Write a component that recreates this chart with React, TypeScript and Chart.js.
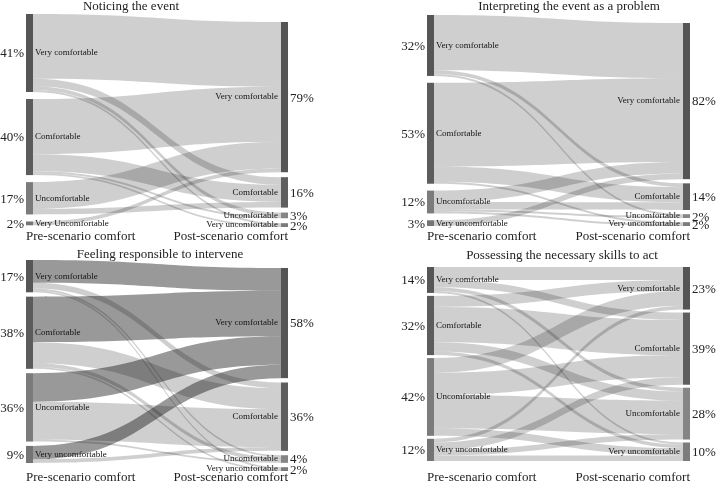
import React, { useEffect, useRef } from "react";
import { Chart, registerables } from "chart.js";

Chart.register(...registerables);

// ---------- data ----------
const panelTitles = [
  "Noticing the event",
  "Interpreting the event as a problem",
  "Feeling responsible to intervene",
  "Possessing the necessary skills to act",
];

const axisLabels = ["Pre-scenario comfort", "Post-scenario comfort"];

const comfortLevels = ["Very comfortable", "Comfortable", "Uncomfortable", "Very uncomfortable"];
const comfortLevelsNoticingPre = ["Very comfortable", "Comfortable", "Uncomfortable", "Very Uncomfortable"];

// percentages shown next to the nodes
const prePctNoticing = [41, 40, 17, 2];
const postPctNoticing = [79, 16, 3, 2];
const prePctInterpreting = [32, 53, 12, 3];
const postPctInterpreting = [82, 14, 2, 2];
const prePctResponsible = [17, 38, 36, 9];
const postPctResponsible = [58, 36, 4, 2];
const prePctSkills = [14, 32, 42, 12];
const postPctSkills = [23, 39, 28, 10];

// flows: rows = pre level, columns = post level (percent of respondents)
const flowsNoticing = [
  [34, 4, 2, 1],
  [29, 9, 1, 1],
  [14, 3, 0, 0],
  [2, 0, 0, 0],
];
const flowsInterpreting = [
  [29, 2, 1, 0],
  [44, 8, 0, 1],
  [6, 4, 1, 1],
  [3, 0, 0, 0],
];
const flowsResponsible = [
  [12, 3, 1, 1],
  [24, 11, 2, 1],
  [15, 20, 1, 0],
  [7, 2, 0, 0],
];
const flowsSkills = [
  [7, 4, 2, 1],
  [6, 19, 5, 2],
  [8, 12, 18, 4],
  [2, 4, 3, 3],
];

// ---------- layout / styles ----------
const W = 716;
const H = 483;
const NODE_W = 7;
const SERIF = '"Liberation Serif", "Times New Roman", Times, serif';
const LINK_LIGHT = "rgba(0,0,0,0.19)";
const LINK_DARK = "rgba(0,0,0,0.40)";
const PRE_COLORS = ["#565656", "#5c5c5c", "#7b7b7b", "#747474"];
const POST_COLORS = ["#555555", "#5e5e5e", "#858585", "#7c7c7c"];

type PanelDef = {
  title: string;
  preLabels: string[];
  postLabels: string[];
  prePct: number[];
  postPct: number[];
  flows: number[][];
  darkTargets: number[];
  box: { left: number; top: number; width: number; height: number };
  area: { left: number; right: number; top: number; bottom: number };
  gapL: number;
  gapR: number;
  offR: number;
  titleX: number;
  titleY: number;
  axisY: number;
};

const panels: PanelDef[] = [
  {
    title: panelTitles[0],
    preLabels: comfortLevelsNoticingPre,
    postLabels: comfortLevels,
    prePct: prePctNoticing,
    postPct: postPctNoticing,
    flows: flowsNoticing,
    darkTargets: [],
    box: { left: 0, top: 0, width: 358, height: 242 },
    area: { left: 26, right: 288, top: 14, bottom: 227 },
    gapL: 3.7,
    gapR: 2.6,
    offR: 4.2,
    titleX: 131,
    titleY: 10,
    axisY: 240,
  },
  {
    title: panelTitles[1],
    preLabels: comfortLevels,
    postLabels: comfortLevels,
    prePct: prePctInterpreting,
    postPct: postPctInterpreting,
    flows: flowsInterpreting,
    darkTargets: [],
    box: { left: 358, top: 0, width: 358, height: 242 },
    area: { left: 69, right: 332, top: 15, bottom: 226 },
    gapL: 3.6,
    gapR: 2.2,
    offR: 4.2,
    titleX: 211,
    titleY: 10,
    axisY: 240,
  },
  {
    title: panelTitles[2],
    preLabels: comfortLevels,
    postLabels: comfortLevels,
    prePct: prePctResponsible,
    postPct: postPctResponsible,
    flows: flowsResponsible,
    darkTargets: [0],
    box: { left: 0, top: 242, width: 358, height: 241 },
    area: { left: 26, right: 288, top: 18, bottom: 229 },
    gapL: 2.3,
    gapR: 2.3,
    offR: 4.2,
    titleX: 160,
    titleY: 16,
    axisY: 239,
  },
  {
    title: panelTitles[3],
    preLabels: comfortLevels,
    postLabels: comfortLevels,
    prePct: prePctSkills,
    postPct: postPctSkills,
    flows: flowsSkills,
    darkTargets: [],
    box: { left: 358, top: 242, width: 358, height: 241 },
    area: { left: 69, right: 332, top: 25, bottom: 219 },
    gapL: 1.6,
    gapR: 1.6,
    offR: 0,
    titleX: 204,
    titleY: 17,
    axisY: 239,
  },
];

function stackStarts(values: number[], gap: number, offset: number): number[] {
  const out: number[] = [];
  let acc = offset;
  for (const v of values) {
    out.push(acc);
    acc += v + gap;
  }
  return out;
}

function SankeyPanel({ p }: { p: PanelDef }) {
  const ref = useRef<HTMLCanvasElement | null>(null);

  useEffect(() => {
    const canvas = ref.current;
    if (!canvas) return;
    const sum = (a: number[]) => a.reduce((s, v) => s + v, 0);
    const colL = sum(p.prePct) + p.gapL * (p.prePct.length - 1);
    const colR = p.offR + sum(p.postPct) + p.gapR * (p.postPct.length - 1);
    const M = Math.max(colL, colR);

    const sankeyPlugin = {
      id: "sankeyDraw",
      afterDatasetsDraw(chart: any) {
        const ctx: CanvasRenderingContext2D = chart.ctx;
        const xs = chart.scales.x;
        const ys = chart.scales.y;
        const xL = xs.getPixelForValue(0);
        const xR = xs.getPixelForValue(1);
        const preStart = stackStarts(p.prePct, p.gapL, 0);
        const postStart = stackStarts(p.postPct, p.gapR, p.offR);

        // links
        const srcOff = preStart.slice();
        const tgtOff = postStart.slice();
        const x0 = xL + NODE_W;
        const x1 = xR - NODE_W;
        const xm = (x0 + x1) / 2;
        ctx.save();
        for (let i = 0; i < p.flows.length; i++) {
          for (let j = 0; j < p.flows[i].length; j++) {
            const v = p.flows[i][j];
            if (!v) continue;
            const s0 = srcOff[i];
            srcOff[i] += v;
            const t0 = tgtOff[j];
            tgtOff[j] += v;
            const ys0 = ys.getPixelForValue(s0);
            const ys1 = ys.getPixelForValue(s0 + v);
            const yt0 = ys.getPixelForValue(t0);
            const yt1 = ys.getPixelForValue(t0 + v);
            ctx.beginPath();
            ctx.moveTo(x0, ys0);
            ctx.bezierCurveTo(xm, ys0, xm, yt0, x1, yt0);
            ctx.lineTo(x1, yt1);
            ctx.bezierCurveTo(xm, yt1, xm, ys1, x0, ys1);
            ctx.closePath();
            ctx.fillStyle = p.darkTargets.includes(j) ? LINK_DARK : LINK_LIGHT;
            ctx.fill();
          }
        }

        // nodes
        for (let i = 0; i < p.prePct.length; i++) {
          const a = ys.getPixelForValue(preStart[i]);
          const b = ys.getPixelForValue(preStart[i] + p.prePct[i]);
          ctx.fillStyle = PRE_COLORS[i];
          ctx.fillRect(xL, a, NODE_W, b - a);
        }
        for (let j = 0; j < p.postPct.length; j++) {
          const a = ys.getPixelForValue(postStart[j]);
          const b = ys.getPixelForValue(postStart[j] + p.postPct[j]);
          ctx.fillStyle = POST_COLORS[j];
          ctx.fillRect(xR - NODE_W, a, NODE_W, b - a);
        }

        // node labels
        ctx.textBaseline = "middle";
        ctx.font = `9px ${SERIF}`;
        ctx.fillStyle = "#111";
        for (let i = 0; i < p.prePct.length; i++) {
          const c = ys.getPixelForValue(preStart[i] + p.prePct[i] / 2);
          ctx.textAlign = "left";
          ctx.fillText(p.preLabels[i], xL + NODE_W + 2, c);
        }
        for (let j = 0; j < p.postPct.length; j++) {
          const c = ys.getPixelForValue(postStart[j] + p.postPct[j] / 2);
          ctx.textAlign = "right";
          ctx.fillText(p.postLabels[j], xR - NODE_W - 3, c);
        }

        // percentages
        ctx.font = `13px ${SERIF}`;
        ctx.fillStyle = "#222";
        for (let i = 0; i < p.prePct.length; i++) {
          const c = ys.getPixelForValue(preStart[i] + p.prePct[i] / 2);
          ctx.textAlign = "right";
          ctx.fillText(`${p.prePct[i]}%`, xL - 2, c + 1);
        }
        for (let j = 0; j < p.postPct.length; j++) {
          const c = ys.getPixelForValue(postStart[j] + p.postPct[j] / 2);
          ctx.textAlign = "left";
          ctx.fillText(`${p.postPct[j]}%`, xR + 2, c + 1);
        }

        // title and axis labels
        ctx.textBaseline = "alphabetic";
        ctx.font = `13px ${SERIF}`;
        ctx.fillStyle = "#222";
        ctx.textAlign = "center";
        ctx.fillText(p.title, p.titleX, p.titleY);
        ctx.textAlign = "left";
        ctx.fillText(axisLabels[0], xL, p.axisY);
        ctx.textAlign = "right";
        ctx.fillText(axisLabels[1], xR, p.axisY);
        ctx.restore();
      },
    };

    const chart = new Chart(canvas, {
      type: "scatter",
      data: { datasets: [{ data: [] }] },
      options: {
        responsive: false,
        animation: false,
        events: [],
        layout: {
          padding: {
            left: p.area.left,
            right: p.box.width - p.area.right,
            top: p.area.top,
            bottom: p.box.height - p.area.bottom,
          },
        },
        scales: {
          x: { type: "linear", display: false, min: 0, max: 1 },
          y: { type: "linear", display: false, min: 0, max: M, reverse: true },
        },
        plugins: {
          legend: { display: false },
          tooltip: { enabled: false },
          title: { display: false },
        },
      },
      plugins: [sankeyPlugin as any],
    });
    return () => chart.destroy();
  }, [p]);

  return (
    <div
      style={{
        position: "absolute",
        left: p.box.left,
        top: p.box.top,
        width: p.box.width,
        height: p.box.height,
      }}
    >
      <canvas ref={ref} width={p.box.width} height={p.box.height} style={{ display: "block" }} />
    </div>
  );
}

export default function App() {
  return (
    <div style={{ position: "absolute", left: 0, top: 0, width: W, height: H, background: "#fff" }}>
      {panels.map((p, i) => (
        <SankeyPanel key={i} p={p} />
      ))}
    </div>
  );
}
